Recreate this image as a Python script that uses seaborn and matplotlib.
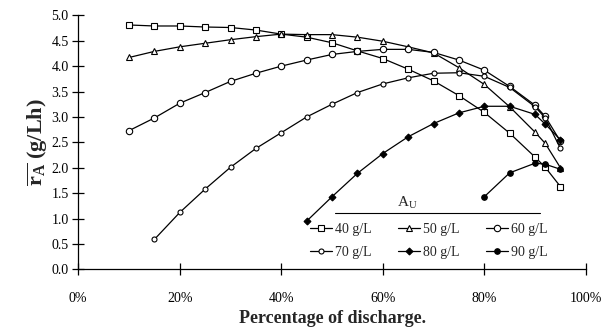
import numpy as np
import pandas as pd
import matplotlib
matplotlib.use("Agg")
import matplotlib.pyplot as plt
import seaborn as sns
from matplotlib.lines import Line2D

# ---- data ----
x_40 = [10, 15, 20, 25, 30, 35, 40, 45, 50, 55, 60, 65, 70, 75, 80, 85, 90, 92, 95]
y_40 = [4.81, 4.79, 4.79, 4.77, 4.76, 4.71, 4.63, 4.57, 4.46, 4.30, 4.15, 3.94, 3.71, 3.42, 3.09, 2.68, 2.21, 2.01, 1.63]

x_50 = [10, 15, 20, 25, 30, 35, 40, 45, 50, 55, 60, 65, 70, 75, 80, 85, 90, 92, 95]
y_50 = [4.17, 4.29, 4.38, 4.45, 4.52, 4.58, 4.63, 4.62, 4.62, 4.57, 4.49, 4.38, 4.26, 3.97, 3.64, 3.20, 2.70, 2.48, 2.00]

x_60 = [10, 15, 20, 25, 30, 35, 40, 45, 50, 55, 60, 65, 70, 75, 80, 85, 90, 92, 95]
y_60 = [2.73, 2.98, 3.27, 3.48, 3.70, 3.86, 4.00, 4.12, 4.23, 4.29, 4.33, 4.33, 4.27, 4.12, 3.92, 3.60, 3.23, 3.01, 2.52]

x_70 = [15, 20, 25, 30, 35, 40, 45, 50, 55, 60, 65, 70, 75, 80, 85, 90, 92, 95]
y_70 = [0.59, 1.12, 1.58, 2.01, 2.38, 2.69, 3.00, 3.25, 3.48, 3.65, 3.77, 3.86, 3.87, 3.80, 3.58, 3.20, 2.98, 2.38]

x_80 = [45, 50, 55, 60, 65, 70, 75, 80, 85, 90, 92, 95]
y_80 = [0.95, 1.43, 1.89, 2.28, 2.61, 2.87, 3.08, 3.21, 3.21, 3.05, 2.86, 2.55]

x_90 = [80, 85, 90, 92, 95]
y_90 = [1.43, 1.90, 2.09, 2.07, 1.97]

series_labels = ["40 g/L", "50 g/L", "60 g/L", "70 g/L", "80 g/L", "90 g/L"]
legend_title = r"A$_{\mathrm{U}}$"
x_ticks = [0, 20, 40, 60, 80, 100]
x_tick_labels = ["0%", "20%", "40%", "60%", "80%", "100%"]
y_ticks = [0.0, 0.5, 1.0, 1.5, 2.0, 2.5, 3.0, 3.5, 4.0, 4.5, 5.0]

sns.set_style("ticks")
plt.rcParams["font.family"] = ["Liberation Serif", "DejaVu Serif"]
plt.rcParams["mathtext.fontset"] = "custom"
plt.rcParams["mathtext.rm"] = "Liberation Serif"
plt.rcParams["mathtext.it"] = "Liberation Serif:italic"
plt.rcParams["mathtext.bf"] = "Liberation Serif:bold"

fig = plt.figure(figsize=(6.16, 3.33), dpi=100)
ax = fig.add_axes([0.127, 0.191, 0.824, 0.763])

styles = [
    dict(marker="s", markersize=4.6, markerfacecolor="white"),
    dict(marker="^", markersize=4.6, markerfacecolor="white"),
    dict(marker="o", markersize=4.6, markerfacecolor="white"),
    dict(marker="o", markersize=3.6, markerfacecolor="white"),
    dict(marker="D", markersize=3.5, markerfacecolor="black"),
    dict(marker="o", markersize=4.0, markerfacecolor="black"),
]
xs = [x_40, x_50, x_60, x_70, x_80, x_90]
ys = [y_40, y_50, y_60, y_70, y_80, y_90]

handles = []
for xv, yv, lab, st in zip(xs, ys, series_labels, styles):
    df = pd.DataFrame({"x": xv, "y": yv})
    sns.lineplot(data=df, x="x", y="y", ax=ax, color="black", linewidth=0.9,
                 markeredgecolor="black", markeredgewidth=0.8, **st)
    handles.append(Line2D([], [], color="black", linewidth=0.9,
                          markeredgecolor="black", markeredgewidth=0.8, label=lab, **st))

ax.set_xlim(0, 100)
ax.set_ylim(0, 5.0)
ax.set_xticks(x_ticks)
ax.set_xticklabels(x_tick_labels)
ax.set_yticks(y_ticks)
ax.set_yticklabels([f"{v:.1f}" for v in y_ticks])
for s in ["top", "right"]:
    ax.spines[s].set_visible(False)
for s in ["left", "bottom"]:
    ax.spines[s].set_linewidth(0.9)
    ax.spines[s].set_color("black")
ax.tick_params(axis="both", direction="inout", length=8, width=0.9, colors="black", labelsize=10)
ax.tick_params(axis="x", pad=12)
ax.tick_params(axis="y", pad=3)

ax.set_xlabel("Percentage of discharge.", fontsize=13, fontweight="bold", labelpad=4)
ax.set_ylabel(r"$\overline{\mathbf{r}_{\mathbf{A}}}$ (g/Lh)", fontsize=16, fontweight="bold", labelpad=1)

order = [0, 3, 1, 4, 2, 5]
leg = ax.legend([handles[i] for i in order], [series_labels[i] for i in order],
                ncol=3, frameon=False, loc="upper left", bbox_to_anchor=(0.443, 0.21),
                fontsize=10, handlelength=1.6, handletextpad=0.2, columnspacing=1.9,
                labelspacing=0.7, borderpad=0.0)
ax.text(64.8, 1.30, legend_title, fontsize=11, ha="center", va="center")
ax.axhline(1.11, 0.506, 0.909, color="black", linewidth=0.8)

fig.savefig("out.png", dpi=100)
